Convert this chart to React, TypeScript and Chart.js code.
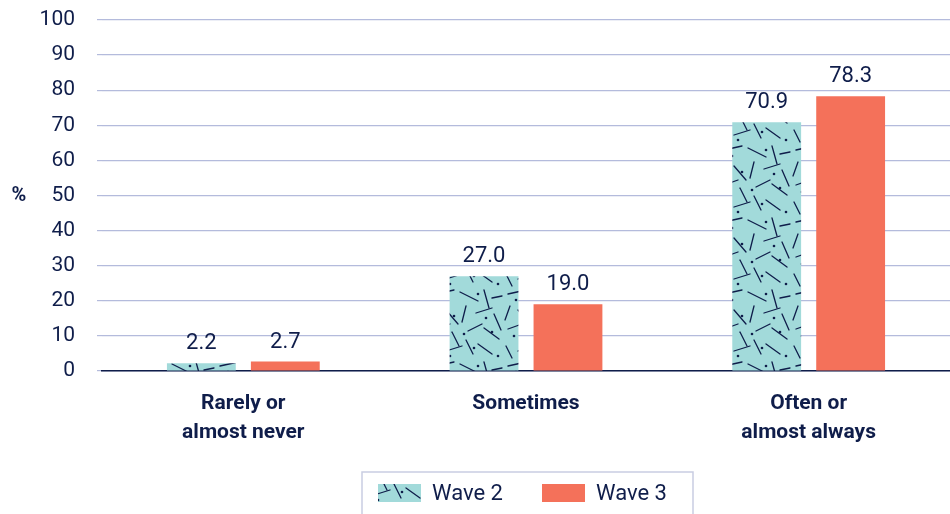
import React, { useEffect, useRef } from "react";
import { Chart, registerables } from "chart.js";
Chart.register(...registerables);

const categories: string[][] = [["Rarely or", "almost never"], ["Sometimes"], ["Often or", "almost always"]];
const wave2: number[] = [2.2, 27.0, 70.9];
const wave3: number[] = [2.7, 19.0, 78.3];
const seriesNames: string[] = ["Wave 2", "Wave 3"];
const yTicks: number[] = [0, 10, 20, 30, 40, 50, 60, 70, 80, 90, 100];

const NAVY = "#0f1d4a";
const TEAL = "#a2dada";
const CORAL = "#f4715a";
const GRID = "#b4bbdc";
const FONT = "Roboto, 'Open Sans', sans-serif";

// decorative texture segments (x1,y1,x2,y2) in a 72x72 tile
const SEGS: number[][] = [
  [4, 6, 22, 2], [28, 4, 46, 13], [52, 2, 57, 20], [60, 10, 70, 8],
  [6, 18, 1, 32], [14, 22, 26, 36], [34, 18, 30, 34], [44, 25, 60, 20],
  [62, 26, 69, 42], [4, 41, 18, 36], [20, 44, 27, 58], [36, 43, 50, 36],
  [52, 40, 67, 51], [2, 58, 8, 70], [14, 63, 30, 58], [34, 52, 41, 66],
  [46, 56, 60, 66],
];
const DOTS: number[][] = [
  [12, 12], [46, 6], [22, 28], [54, 30], [10, 48], [32, 46], [60, 44], [18, 68], [42, 60], [66, 68],
];

function makePattern(): CanvasPattern | string {
  const c = document.createElement("canvas");
  c.width = 72;
  c.height = 72;
  const g = c.getContext("2d");
  if (!g) return TEAL;
  g.fillStyle = TEAL;
  g.fillRect(0, 0, 72, 72);
  g.strokeStyle = NAVY;
  g.lineWidth = 1.3;
  g.lineCap = "round";
  SEGS.forEach(([a, b, cc, d]) => {
    g.beginPath();
    g.moveTo(a, b);
    g.lineTo(cc, d);
    g.stroke();
  });
  g.fillStyle = NAVY;
  DOTS.forEach(([x, y]) => {
    g.beginPath();
    g.arc(x, y, 1.3, 0, Math.PI * 2);
    g.fill();
  });
  return g.createPattern(c, "repeat") || TEAL;
}

export default function App() {
  const ref = useRef<HTMLCanvasElement | null>(null);
  useEffect(() => {
    document.body.style.margin = "0";
    const canvas = ref.current;
    if (!canvas) return;
    const pattern = makePattern();

    const extras = {
      id: "extras",
      afterDatasetsDraw(chart: any) {
        const ctx = chart.ctx;
        ctx.save();
        ctx.fillStyle = NAVY;
        ctx.font = `22px ${FONT}`;
        ctx.textAlign = "center";
        ctx.textBaseline = "alphabetic";
        chart.data.datasets.forEach((ds: any, di: number) => {
          const meta = chart.getDatasetMeta(di);
          meta.data.forEach((bar: any, i: number) => {
            ctx.fillText(Number(ds.data[i]).toFixed(1), bar.x, bar.y - 14);
          });
        });
        // y title
        const ys = chart.scales.y;
        ctx.font = `bold 20px ${FONT}`;
        ctx.textAlign = "center";
        ctx.textBaseline = "middle";
        ctx.fillText("%", 19, ys.getPixelForValue(50));
        // legend
        const lx = 362, ly = 472, lw = 331, lh = 50;
        ctx.strokeStyle = "#c9cde2";
        ctx.lineWidth = 1.5;
        ctx.strokeRect(lx, ly, lw, lh);
        const items = [
          { x: 378, fill: pattern, label: seriesNames[0] },
          { x: 542, fill: CORAL, label: seriesNames[1] },
        ];
        ctx.font = `22px ${FONT}`;
        ctx.textAlign = "left";
        items.forEach((it) => {
          ctx.fillStyle = it.fill as any;
          ctx.fillRect(it.x, 484, 43, 18);
          ctx.fillStyle = NAVY;
          ctx.fillText(it.label, it.x + 54, 494);
        });
        ctx.restore();
      },
    };

    const chart = new Chart(canvas, {
      type: "bar",
      data: {
        labels: categories,
        datasets: [
          { label: seriesNames[0], data: wave2, backgroundColor: pattern as any, borderWidth: 0 },
          { label: seriesNames[1], data: wave3, backgroundColor: CORAL, borderWidth: 0 },
        ],
      },
      options: {
        animation: false,
        responsive: false,
        maintainAspectRatio: false,
        layout: { padding: { top: 20, right: 0, left: 0, bottom: 0 } },
        datasets: { bar: { categoryPercentage: 0.594, barPercentage: 0.82 } } as any,
        plugins: { legend: { display: false }, tooltip: { enabled: false } },
        scales: {
          x: {
            grid: { display: false, drawTicks: false },
            border: { display: true, color: NAVY, width: 1.5 },
            ticks: {
              color: NAVY,
              font: { family: FONT, size: 21, weight: "bold", lineHeight: 1.38 },
              padding: 18,
              maxRotation: 0,
              autoSkip: false,
            },
            afterFit: (s: any) => { s.height = 143; s.paddingLeft = 0; s.paddingRight = 0; },
          },
          y: {
            min: 0,
            max: 100,
            afterBuildTicks: (s: any) => { s.ticks = yTicks.map((v) => ({ value: v })); },
            grid: { color: GRID, lineWidth: 1.2, drawTicks: true, tickLength: 5 },
            border: { display: false },
            ticks: {
              color: NAVY,
              font: { family: FONT, size: 21 },
              padding: 22,
            },
            afterFit: (s: any) => { s.width = 102; s.paddingTop = 0; s.paddingBottom = 0; },
          },
        },
      },
      plugins: [extras],
    });
    return () => chart.destroy();
  }, []);
  return (
    <div style={{ width: 950, height: 514 }}>
      <canvas ref={ref} width={950} height={514} style={{ display: "block" }} />
    </div>
  );
}
